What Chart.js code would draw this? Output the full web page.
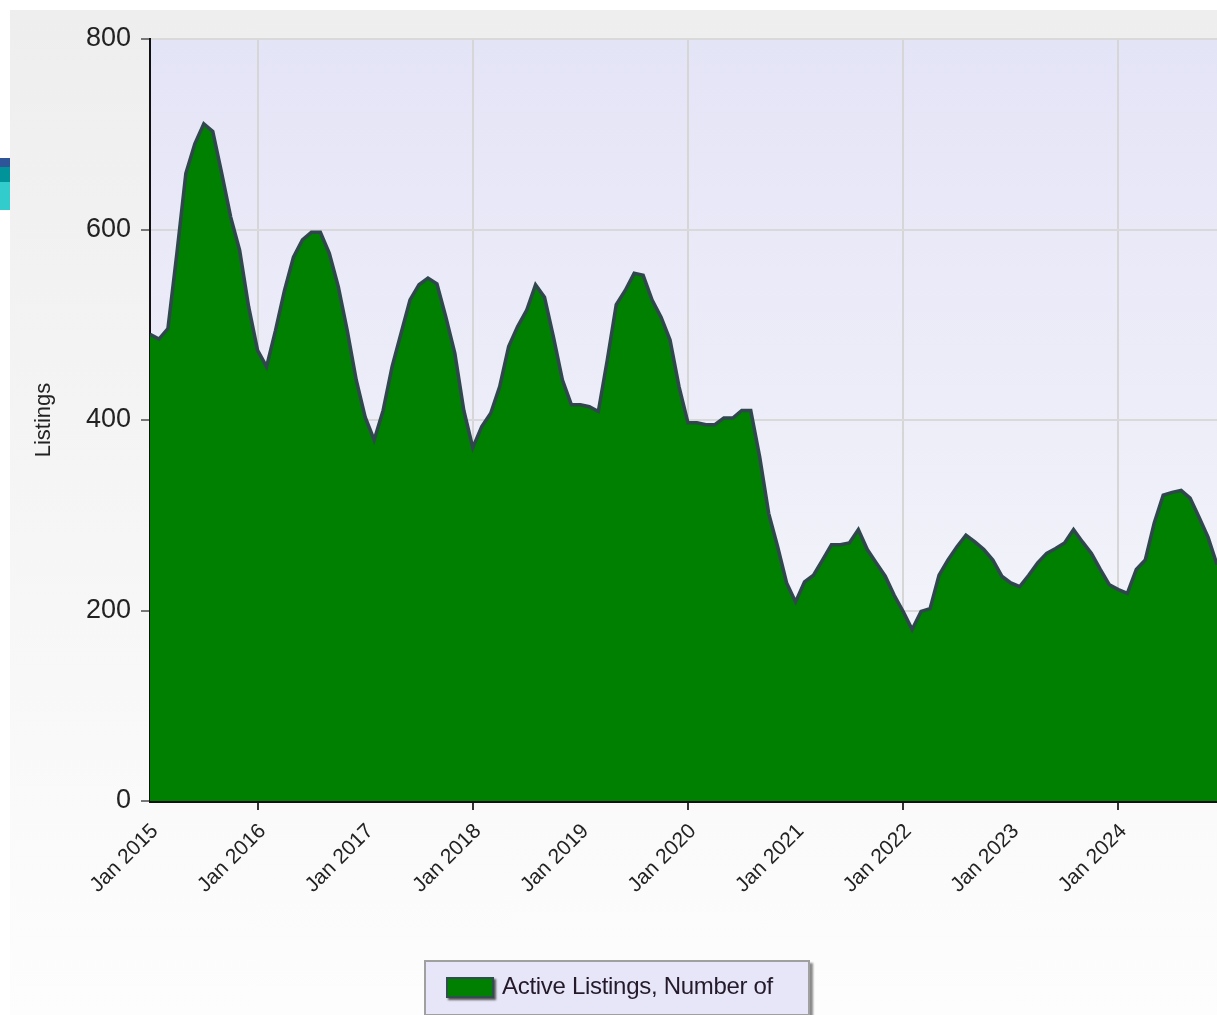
<!DOCTYPE html>
<html>
<head>
<meta charset="utf-8">
<script src="https://cdn.jsdelivr.net/npm/chart.js@4.4.1/dist/chart.umd.min.js"></script>
<style>
  html, body { margin: 0; padding: 0; background: #fff; }
  body { width: 1217px; height: 1015px; position: relative; overflow: hidden; font-family: 'Liberation Sans', Arial, sans-serif; }
  #panel { position: absolute; left: 10px; top: 10px; width: 1207px; height: 1005px; background: linear-gradient(#eeeeee, #fdfdfd); }
  #chart { position: absolute; left: 10px; top: 10px; }
  .stub { position: absolute; left: 0; width: 10px; }
  #legend { position: absolute; left: 424px; top: 960px; width: 382px; height: 52px; background: #e6e6f8; border: 2px solid #a0a0a0; box-shadow: 3px 3px 2px #8a8a8a; }
  #legend .swatch { position: absolute; left: 20px; top: 15px; width: 44px; height: 17px; background: #008000; border: 2px solid #2f4f4f; box-shadow: 2px 2px 2px #555; }
  #legend .label { position: absolute; left: 76px; top: 10px; font-size: 24px; letter-spacing: -0.3px; color: #241a2a; white-space: nowrap; }
</style>
</head>
<body>
<div id="panel"></div>
<div class="stub" style="top:158px;height:9px;background:#2e5597"></div>
<div class="stub" style="top:167px;height:15px;background:#00939a"></div>
<div class="stub" style="top:182px;height:28px;background:#33cccc"></div>
<canvas id="chart" width="1207" height="1005"></canvas>
<div id="legend"><div class="swatch"></div><div class="label">Active Listings, Number of</div></div>
<script>
// monthly data, Jan 2015 .. Dec 2024
const monthNames = ['Jan', 'Feb', 'Mar', 'Apr', 'May', 'Jun', 'Jul', 'Aug', 'Sep', 'Oct', 'Nov', 'Dec'];
const years = [2015, 2016, 2017, 2018, 2019, 2020, 2021, 2022, 2023, 2024];
const yearTicks = ['Jan 2015', 'Jan 2016', 'Jan 2017', 'Jan 2018', 'Jan 2019', 'Jan 2020', 'Jan 2021', 'Jan 2022', 'Jan 2023', 'Jan 2024'];

const listings = [
    490, 485, 496, 575, 659, 690, 711, 703, 659, 613, 578, 519,   // 2015
    473, 456, 494, 536, 571, 589, 597, 597, 575, 540, 494, 442,   // 2016
    403, 379, 410, 456, 491, 526, 542, 549, 543, 508, 470, 410,   // 2017
    371, 393, 407, 435, 477, 498, 515, 542, 529, 487, 442, 416,   // 2018
    416, 414, 409, 463, 521, 536, 554, 552, 526, 508, 484, 435,   // 2019
    397, 397, 395, 395, 402, 402, 410, 410, 361, 302, 267, 229,   // 2020
    209, 230, 237, 253, 269, 269, 271, 285, 264, 250, 236, 216,   // 2021
    199, 180, 199, 202, 237, 253, 267, 279, 272, 264, 253, 236,   // 2022
    229, 225, 237, 250, 260, 265, 271, 285, 272, 260, 243, 227,   // 2023
    222, 218, 243, 253, 292, 321, 324, 326, 318, 298, 277, 248    // 2024
];

const monthLabels = [];
years.forEach(y => monthNames.forEach(m => monthLabels.push(m + ' ' + y)));

const yTicks = [0, 200, 400, 600, 800];

// lavender gradient behind the plot
const plotBg = {
    id: 'plotBg',
    beforeDraw(chart) {
        const { ctx, chartArea: a } = chart;
        const g = ctx.createLinearGradient(0, a.top, 0, a.bottom);
        g.addColorStop(0, '#e4e4f7');
        g.addColorStop(1, '#f7f7fb');
        ctx.save();
        ctx.fillStyle = g;
        ctx.fillRect(a.left, a.top, a.right - a.left, a.bottom - a.top);
        ctx.restore();
    }
};

const ctx = document.getElementById('chart');
new Chart(ctx, {
    type: 'line',
    data: {
        datasets: [{
            label: 'Active Listings, Number of',
            data: listings.map((v, i) => ({ x: i, y: v })),
            borderColor: '#2f474d',
            borderWidth: 3.5,
            backgroundColor: '#008000',
            fill: 'origin',
            tension: 0,
            pointRadius: 0
        }]
    },
    options: {
        responsive: false,
        animation: false,
        layout: { padding: { top: 29, left: 0, right: 0, bottom: 0 } },
        plugins: {
            legend: { display: false },
            tooltip: { enabled: false }
        },
        scales: {
            x: {
                type: 'linear',
                min: 0,
                max: monthLabels.length - 1,
                afterBuildTicks: (scale) => {
                    scale.ticks = yearTicks.map((t, i) => ({ value: i * 12 }));
                },
                afterFit: (scale) => {
                    scale.height = 214;
                    scale.paddingLeft = 0;
                    scale.paddingRight = 0;
                },
                ticks: {
                    callback: (v) => yearTicks[v / 12],
                    minRotation: 45,
                    maxRotation: 45,
                    padding: 9,
                    labelOffset: 5,
                    color: '#222',
                    font: { family: 'Liberation Sans', size: 21 }
                },
                grid: {
                    color: (c) => (c.tick && c.tick.value % 24 === 12) ? '#d6d6d6' : 'transparent',
                    tickColor: (c) => (c.tick && c.tick.value % 24 === 12) ? '#333' : 'transparent',
                    lineWidth: 2,
                    tickLength: 9
                },
                border: { color: '#111', width: 3 }
            },
            y: {
                min: 0,
                max: 800,
                afterBuildTicks: (scale) => {
                    scale.ticks = yTicks.map(v => ({ value: v }));
                },
                afterFit: (scale) => {
                    scale.width = 140;
                    scale.paddingTop = 0;
                    scale.paddingBottom = 0;
                },
                title: {
                    display: true,
                    text: 'Listings',
                    color: '#222',
                    padding: { top: 21, bottom: 0 },
                    font: { family: 'Liberation Sans', size: 22 }
                },
                ticks: {
                    padding: 10,
                    color: '#222',
                    font: { family: 'Liberation Sans', size: 27 }
                },
                grid: {
                    color: '#d9d9d9',
                    lineWidth: 2,
                    tickColor: '#777',
                    tickLength: 9
                },
                border: { color: '#111', width: 2 }
            }
        }
    },
    plugins: [plotBg]
});
</script>
</body>
</html>
